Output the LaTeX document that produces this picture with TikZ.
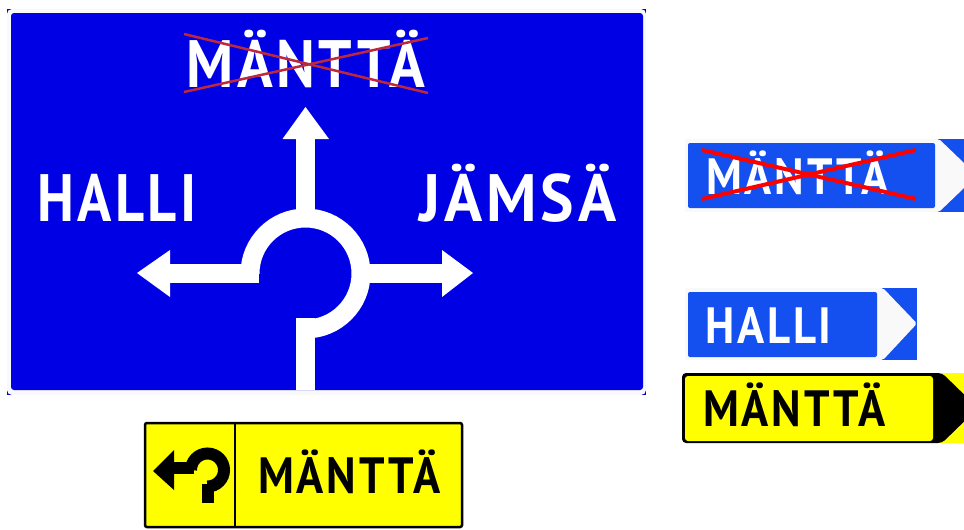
\documentclass[tikz,border=0pt]{standalone}
\usepackage{fontspec}
\newfontfamily\signfont[LetterSpace=5.5, FakeStretch=0.88]{PT Sans}
\definecolor{signblue}{RGB}{0,0,228}
\definecolor{panelblue}{RGB}{20,80,240}
\definecolor{signyellow}{RGB}{255,255,0}
\definecolor{crossred}{RGB}{190,40,60}
\tikzset{
    bigtext/.style={anchor=base west, inner sep=0pt, text=white, font=\signfont\bfseries\fontsize{67}{67}\selectfont},
    smalltext/.style={anchor=base west, inner sep=0pt, font=\signfont\bfseries\fontsize{51}{51}\selectfont},
    roadline/.style={draw=white, line width=19pt},
}

\begin{document}
\begin{tikzpicture}[x=1pt, y=-1pt]
    \clip (0,0) rectangle (964,530);
    \fill[white] (0,0) rectangle (964,530);

    % large sign
    \begin{scope}
        \fill[signblue] (7,9) rectangle (646,395);
        \fill[white!95!gray, rounded corners=5pt] (7,9) rectangle (646,395);
        \fill[signblue, rounded corners=3pt] (11,13) rectangle (643,390);
        \node[bigtext] (manttabig) at (186,87) {MÄNTTÄ};
        \node[bigtext] (halli) at (37,221) {\scalebox{0.96}[1]{HALLI}};
        \node[bigtext] (jamsa) at (419,221) {\scalebox{1.07}[1]{JÄMSÄ}};
        \draw[crossred, line width=2.5pt] (184,34) -- (428,93);
        \draw[crossred, line width=2.5pt] (184,92) -- (428,38);
        \draw[roadline] (250,273.5) arc (180:450:55.5);
        \draw[roadline] (305.5,318) -- (305.5,390);
        \draw[roadline] (305.5,135) -- (305.5,212);
        \draw[roadline] (165,273) -- (259,273);
        \draw[roadline] (368,273) -- (447,273);
        \fill[white] (305.5,107) -- (329,139) -- (282.5,139) -- cycle;
        \fill[white] (137,273) -- (170,250) -- (170,297) -- cycle;
        \fill[white] (473,273) -- (442,250) -- (442,297) -- cycle;
    \end{scope}

    % blue direction sign, crossed
    \begin{scope}
        \fill[panelblue] (900,139) rectangle (964,212);
        \fill[white!95!gray, rounded corners=2pt] (685,139) -- (939,139) -- (977,175.5) -- (939,212) -- (685,212) -- cycle;
        \fill[panelblue, rounded corners=2pt] (688,143) rectangle (935,208);
        \node[smalltext, text=white] (manttasmall) at (706,194) {MÄNTTÄ};
        \draw[red, line width=4pt] (702,150) -- (916,199);
        \draw[red, line width=4pt] (702,199) -- (916,150);
    \end{scope}

    % blue direction sign
    \begin{scope}
        \fill[panelblue] (860,288) rectangle (917,360);
        \fill[white!95!gray, rounded corners=2pt] (685,288) -- (883,288) -- (917,323.5) -- (883,360) -- (685,360) -- cycle;
        \fill[panelblue, rounded corners=2pt] (688,292) rectangle (877,357);
        \node[smalltext, text=white] (hallismall) at (705,343) {HALLI};
    \end{scope}

    % yellow direction sign
    \begin{scope}
        \fill[signyellow] (925,373) rectangle (964,443);
        \fill[black, rounded corners=4pt] (682,373) -- (942,373) -- (978,408) -- (942,443) -- (682,443) -- cycle;
        \fill[signyellow, rounded corners=3pt] (685,376) rectangle (933,441);
        \node[smalltext, text=black] (manttayellow) at (703,426) {MÄNTTÄ};
    \end{scope}

    % yellow sign with turning arrow
    \begin{scope}
        \draw[black, fill=signyellow, line width=2.5pt, rounded corners=2pt] (145,423) rectangle (462,527);
        \draw[black, line width=2.5pt] (235,423) -- (235,527);
        \node[smalltext, text=black] (manttaturn) at (258,493) {MÄNTTÄ};
        \fill[black] (153,471) -- (174,450) -- (174,490) -- cycle;
        \draw[black, line width=12pt] (172,468) -- (194,468);
        \draw[black, line width=12pt] (191,470) arc (180:450:16.5);
        \draw[black, line width=12pt] (207.5,484) -- (207.5,503);
    \end{scope}
\end{tikzpicture}
\end{document}
